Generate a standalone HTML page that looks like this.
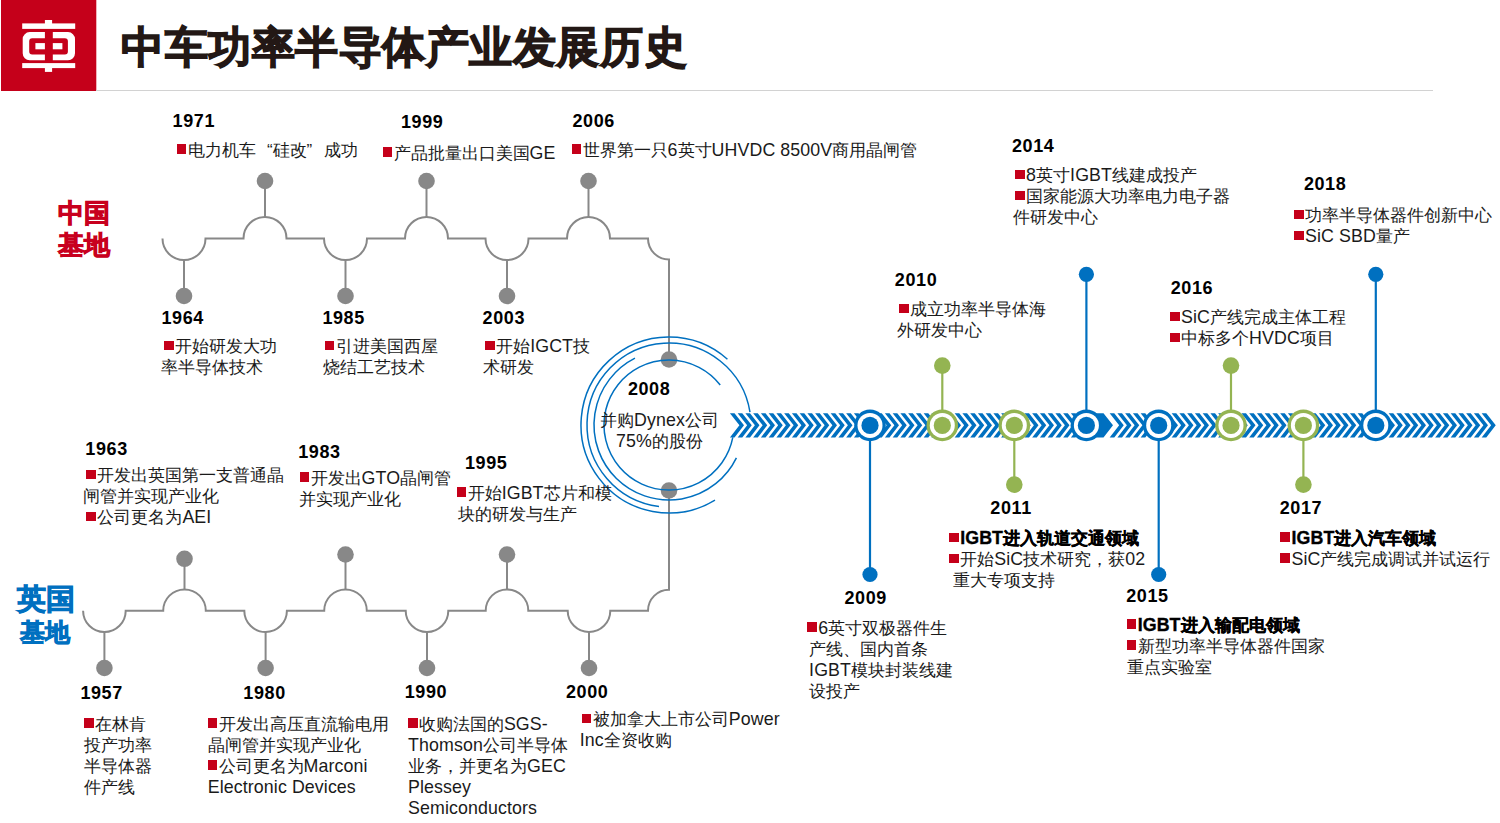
<!DOCTYPE html>
<html><head><meta charset="utf-8"><title>中车功率半导体产业发展历史</title>
<style>
*{margin:0;padding:0}
html,body{width:1500px;height:823px;overflow:hidden;background:#fff}
body{position:relative;font-family:"Liberation Sans",sans-serif;color:#1a1a1a}
.yr{position:absolute;font-weight:bold;font-size:18px;line-height:18px;white-space:nowrap;color:#000;letter-spacing:0.6px}
.tx{position:absolute;font-size:17px;line-height:21.1px;white-space:nowrap}
.l{font-size:17.8px;letter-spacing:0.1px;line-height:1;vertical-align:0.4px}
.q{display:inline-block;width:17px}
.ql{text-align:right}
.tx b{font-weight:bold;color:#000;-webkit-text-stroke:0.35px #000}
.b{display:inline-block;width:9.8px;height:9.6px;background:#c5001a;margin:0 1.3px 0 1px;vertical-align:1.8px}
.lab{position:absolute;font-weight:bold;white-space:nowrap;text-align:center;-webkit-text-stroke:0.9px currentColor}
.title{position:absolute;left:121px;top:22px;font-size:43px;line-height:50px;font-weight:bold;color:#231815;white-space:nowrap;letter-spacing:0.55px;-webkit-text-stroke:1.3px #231815}
</style></head>
<body>
<svg width="1500" height="823" viewBox="0 0 1500 823" style="position:absolute;left:0;top:0"><rect x="1" y="0" width="95.3" height="91" fill="#c5001a"/>
<rect x="96" y="90" width="1337" height="1" fill="#d2d2d2"/>
<g fill="#fff"><rect x="22.2" y="23.4" width="53" height="5.5"/><rect x="44.9" y="20" width="7.2" height="4"/><rect x="22.2" y="63.1" width="53" height="5"/><rect x="44.9" y="67.5" width="7.2" height="4.4"/><rect x="35.4" y="43.1" width="27" height="6.2"/></g>
<path fill="#fff" fill-rule="evenodd" d="M29.7,32.1 H68 A7,7 0 0 1 75,39.1 V53.2 A7,7 0 0 1 68,60.2 H29.7 A7,7 0 0 1 22.7,53.2 V39.1 A7,7 0 0 1 29.7,32.1 Z M32.2,38.2 H64.9 A3,3 0 0 1 67.9,41.2 V51.4 A3,3 0 0 1 64.9,54.4 H32.2 A3,3 0 0 1 29.2,51.4 V41.2 A3,3 0 0 1 32.2,38.2 Z"/>
<rect x="44.9" y="29.2" width="7.9" height="33.7" fill="#c5001a"/>
<path d="M162.5,238.5 A21.5,21.5 0 0 0 205.5,238.5 L243.5,238.5 A21.5,21.5 0 0 1 286.5,238.5 L324.0,238.5 A21.5,21.5 0 0 0 367.0,238.5 L405.0,238.5 A21.5,21.5 0 0 1 448.0,238.5 L485.5,238.5 A21.5,21.5 0 0 0 528.5,238.5 L567.0,238.5 A21.5,21.5 0 0 1 610.0,238.5 L648,238.5 A21,21 0 0 0 669,259.5 V359" fill="none" stroke="#888888" stroke-width="2"/>
<path d="M83.1,610.7 A21.3,21.3 0 0 0 125.7,610.7 L163.2,610.7 A21.3,21.3 0 0 1 205.8,610.7 L244.3,610.7 A21.3,21.3 0 0 0 286.9,610.7 L324.2,610.7 A21.3,21.3 0 0 1 366.8,610.7 L405.7,610.7 A21.3,21.3 0 0 0 448.3,610.7 L485.7,610.7 A21.3,21.3 0 0 1 528.3,610.7 L567.7,610.7 A21.3,21.3 0 0 0 610.3,610.7 L648,610.7 A21,21 0 0 1 669,589.7 V491" fill="none" stroke="#888888" stroke-width="2"/>
<line x1="265" y1="217" x2="265" y2="181" stroke="#888888" stroke-width="2"/>
<circle cx="265" cy="181" r="8.3" fill="#888888"/>
<line x1="426.5" y1="217" x2="426.5" y2="181" stroke="#888888" stroke-width="2"/>
<circle cx="426.5" cy="181" r="8.3" fill="#888888"/>
<line x1="588.5" y1="217" x2="588.5" y2="181" stroke="#888888" stroke-width="2"/>
<circle cx="588.5" cy="181" r="8.3" fill="#888888"/>
<line x1="184" y1="260" x2="184" y2="296" stroke="#888888" stroke-width="2"/>
<circle cx="184" cy="296" r="8.3" fill="#888888"/>
<line x1="345.5" y1="260" x2="345.5" y2="296" stroke="#888888" stroke-width="2"/>
<circle cx="345.5" cy="296" r="8.3" fill="#888888"/>
<line x1="507" y1="260" x2="507" y2="296" stroke="#888888" stroke-width="2"/>
<circle cx="507" cy="296" r="8.3" fill="#888888"/>
<line x1="184.5" y1="589.4" x2="184.5" y2="558.8" stroke="#888888" stroke-width="2"/>
<circle cx="184.5" cy="558.8" r="8.3" fill="#888888"/>
<line x1="345.5" y1="589.4" x2="345.5" y2="554.5" stroke="#888888" stroke-width="2"/>
<circle cx="345.5" cy="554.5" r="8.3" fill="#888888"/>
<line x1="507" y1="589.4" x2="507" y2="554.5" stroke="#888888" stroke-width="2"/>
<circle cx="507" cy="554.5" r="8.3" fill="#888888"/>
<line x1="104.4" y1="632" x2="104.4" y2="668" stroke="#888888" stroke-width="2"/>
<circle cx="104.4" cy="668" r="8.3" fill="#888888"/>
<line x1="265.6" y1="632" x2="265.6" y2="668" stroke="#888888" stroke-width="2"/>
<circle cx="265.6" cy="668" r="8.3" fill="#888888"/>
<line x1="427" y1="632" x2="427" y2="668" stroke="#888888" stroke-width="2"/>
<circle cx="427" cy="668" r="8.3" fill="#888888"/>
<line x1="589" y1="632" x2="589" y2="668" stroke="#888888" stroke-width="2"/>
<circle cx="589" cy="668" r="8.3" fill="#888888"/>
<circle cx="669" cy="359.5" r="8.3" fill="#888888"/>
<circle cx="669" cy="490.5" r="8.3" fill="#888888"/>
<path d="M720.22,384.98 A65,65 0 1 0 732.81,437.40" fill="none" stroke="#0070c0" stroke-width="1.5"/>
<path d="M634.95,358.17 A75,75 0 1 0 736.41,457.88" fill="none" stroke="#0070c0" stroke-width="1.5"/>
<path d="M749.99,412.17 A82,82 0 1 0 659.01,506.39" fill="none" stroke="#0070c0" stroke-width="1.5"/>
<path d="M727.43,359.19 A88,88 0 1 0 714.98,500.03" fill="none" stroke="#0070c0" stroke-width="1.5"/>
<path d="M729.90,413.2h4.6l9.5,12.1-9.5,12.1h-4.6l9.5,-12.1z M737.65,413.2h4.6l9.5,12.1-9.5,12.1h-4.6l9.5,-12.1z M745.40,413.2h4.6l9.5,12.1-9.5,12.1h-4.6l9.5,-12.1z M753.15,413.2h4.6l9.5,12.1-9.5,12.1h-4.6l9.5,-12.1z M760.90,413.2h4.6l9.5,12.1-9.5,12.1h-4.6l9.5,-12.1z M768.65,413.2h4.6l9.5,12.1-9.5,12.1h-4.6l9.5,-12.1z M776.40,413.2h4.6l9.5,12.1-9.5,12.1h-4.6l9.5,-12.1z M784.15,413.2h4.6l9.5,12.1-9.5,12.1h-4.6l9.5,-12.1z M791.90,413.2h4.6l9.5,12.1-9.5,12.1h-4.6l9.5,-12.1z M799.65,413.2h4.6l9.5,12.1-9.5,12.1h-4.6l9.5,-12.1z M807.40,413.2h4.6l9.5,12.1-9.5,12.1h-4.6l9.5,-12.1z M815.15,413.2h4.6l9.5,12.1-9.5,12.1h-4.6l9.5,-12.1z M822.90,413.2h4.6l9.5,12.1-9.5,12.1h-4.6l9.5,-12.1z M830.65,413.2h4.6l9.5,12.1-9.5,12.1h-4.6l9.5,-12.1z M838.40,413.2h4.6l9.5,12.1-9.5,12.1h-4.6l9.5,-12.1z M846.15,413.2h4.6l9.5,12.1-9.5,12.1h-4.6l9.5,-12.1z M853.90,413.2h4.6l9.5,12.1-9.5,12.1h-4.6l9.5,-12.1z M861.65,413.2h4.6l9.5,12.1-9.5,12.1h-4.6l9.5,-12.1z M869.40,413.2h4.6l9.5,12.1-9.5,12.1h-4.6l9.5,-12.1z M877.15,413.2h4.6l9.5,12.1-9.5,12.1h-4.6l9.5,-12.1z M884.90,413.2h4.6l9.5,12.1-9.5,12.1h-4.6l9.5,-12.1z M892.65,413.2h4.6l9.5,12.1-9.5,12.1h-4.6l9.5,-12.1z M900.40,413.2h4.6l9.5,12.1-9.5,12.1h-4.6l9.5,-12.1z M908.15,413.2h4.6l9.5,12.1-9.5,12.1h-4.6l9.5,-12.1z M915.90,413.2h4.6l9.5,12.1-9.5,12.1h-4.6l9.5,-12.1z M923.65,413.2h4.6l9.5,12.1-9.5,12.1h-4.6l9.5,-12.1z M931.40,413.2h4.6l9.5,12.1-9.5,12.1h-4.6l9.5,-12.1z M939.15,413.2h4.6l9.5,12.1-9.5,12.1h-4.6l9.5,-12.1z M946.90,413.2h4.6l9.5,12.1-9.5,12.1h-4.6l9.5,-12.1z M954.65,413.2h4.6l9.5,12.1-9.5,12.1h-4.6l9.5,-12.1z M962.40,413.2h4.6l9.5,12.1-9.5,12.1h-4.6l9.5,-12.1z M970.15,413.2h4.6l9.5,12.1-9.5,12.1h-4.6l9.5,-12.1z M977.90,413.2h4.6l9.5,12.1-9.5,12.1h-4.6l9.5,-12.1z M985.65,413.2h4.6l9.5,12.1-9.5,12.1h-4.6l9.5,-12.1z M993.40,413.2h4.6l9.5,12.1-9.5,12.1h-4.6l9.5,-12.1z M1001.15,413.2h4.6l9.5,12.1-9.5,12.1h-4.6l9.5,-12.1z M1008.90,413.2h4.6l9.5,12.1-9.5,12.1h-4.6l9.5,-12.1z M1016.65,413.2h4.6l9.5,12.1-9.5,12.1h-4.6l9.5,-12.1z M1024.40,413.2h4.6l9.5,12.1-9.5,12.1h-4.6l9.5,-12.1z M1032.15,413.2h4.6l9.5,12.1-9.5,12.1h-4.6l9.5,-12.1z M1039.90,413.2h4.6l9.5,12.1-9.5,12.1h-4.6l9.5,-12.1z M1047.65,413.2h4.6l9.5,12.1-9.5,12.1h-4.6l9.5,-12.1z M1055.40,413.2h4.6l9.5,12.1-9.5,12.1h-4.6l9.5,-12.1z M1063.15,413.2h4.6l9.5,12.1-9.5,12.1h-4.6l9.5,-12.1z M1070.90,413.2h4.6l9.5,12.1-9.5,12.1h-4.6l9.5,-12.1z M1078.65,413.2h4.6l9.5,12.1-9.5,12.1h-4.6l9.5,-12.1z M1086.40,413.2h4.6l9.5,12.1-9.5,12.1h-4.6l9.5,-12.1z M1094.15,413.2h4.6l9.5,12.1-9.5,12.1h-4.6l9.5,-12.1z M1109.65,413.2h4.6l9.5,12.1-9.5,12.1h-4.6l9.5,-12.1z M1117.40,413.2h4.6l9.5,12.1-9.5,12.1h-4.6l9.5,-12.1z M1125.15,413.2h4.6l9.5,12.1-9.5,12.1h-4.6l9.5,-12.1z M1132.90,413.2h4.6l9.5,12.1-9.5,12.1h-4.6l9.5,-12.1z M1140.65,413.2h4.6l9.5,12.1-9.5,12.1h-4.6l9.5,-12.1z M1148.40,413.2h4.6l9.5,12.1-9.5,12.1h-4.6l9.5,-12.1z M1156.15,413.2h4.6l9.5,12.1-9.5,12.1h-4.6l9.5,-12.1z M1163.90,413.2h4.6l9.5,12.1-9.5,12.1h-4.6l9.5,-12.1z M1171.65,413.2h4.6l9.5,12.1-9.5,12.1h-4.6l9.5,-12.1z M1179.40,413.2h4.6l9.5,12.1-9.5,12.1h-4.6l9.5,-12.1z M1187.15,413.2h4.6l9.5,12.1-9.5,12.1h-4.6l9.5,-12.1z M1194.90,413.2h4.6l9.5,12.1-9.5,12.1h-4.6l9.5,-12.1z M1202.65,413.2h4.6l9.5,12.1-9.5,12.1h-4.6l9.5,-12.1z M1210.40,413.2h4.6l9.5,12.1-9.5,12.1h-4.6l9.5,-12.1z M1218.15,413.2h4.6l9.5,12.1-9.5,12.1h-4.6l9.5,-12.1z M1225.90,413.2h4.6l9.5,12.1-9.5,12.1h-4.6l9.5,-12.1z M1233.65,413.2h4.6l9.5,12.1-9.5,12.1h-4.6l9.5,-12.1z M1241.40,413.2h4.6l9.5,12.1-9.5,12.1h-4.6l9.5,-12.1z M1249.15,413.2h4.6l9.5,12.1-9.5,12.1h-4.6l9.5,-12.1z M1256.90,413.2h4.6l9.5,12.1-9.5,12.1h-4.6l9.5,-12.1z M1264.65,413.2h4.6l9.5,12.1-9.5,12.1h-4.6l9.5,-12.1z M1272.40,413.2h4.6l9.5,12.1-9.5,12.1h-4.6l9.5,-12.1z M1280.15,413.2h4.6l9.5,12.1-9.5,12.1h-4.6l9.5,-12.1z M1287.90,413.2h4.6l9.5,12.1-9.5,12.1h-4.6l9.5,-12.1z M1295.65,413.2h4.6l9.5,12.1-9.5,12.1h-4.6l9.5,-12.1z M1303.40,413.2h4.6l9.5,12.1-9.5,12.1h-4.6l9.5,-12.1z M1311.15,413.2h4.6l9.5,12.1-9.5,12.1h-4.6l9.5,-12.1z M1318.90,413.2h4.6l9.5,12.1-9.5,12.1h-4.6l9.5,-12.1z M1326.65,413.2h4.6l9.5,12.1-9.5,12.1h-4.6l9.5,-12.1z M1334.40,413.2h4.6l9.5,12.1-9.5,12.1h-4.6l9.5,-12.1z M1342.15,413.2h4.6l9.5,12.1-9.5,12.1h-4.6l9.5,-12.1z M1349.90,413.2h4.6l9.5,12.1-9.5,12.1h-4.6l9.5,-12.1z M1357.65,413.2h4.6l9.5,12.1-9.5,12.1h-4.6l9.5,-12.1z M1365.40,413.2h4.6l9.5,12.1-9.5,12.1h-4.6l9.5,-12.1z M1373.15,413.2h4.6l9.5,12.1-9.5,12.1h-4.6l9.5,-12.1z M1380.90,413.2h4.6l9.5,12.1-9.5,12.1h-4.6l9.5,-12.1z M1388.65,413.2h4.6l9.5,12.1-9.5,12.1h-4.6l9.5,-12.1z M1396.40,413.2h4.6l9.5,12.1-9.5,12.1h-4.6l9.5,-12.1z M1404.15,413.2h4.6l9.5,12.1-9.5,12.1h-4.6l9.5,-12.1z M1411.90,413.2h4.6l9.5,12.1-9.5,12.1h-4.6l9.5,-12.1z M1419.65,413.2h4.6l9.5,12.1-9.5,12.1h-4.6l9.5,-12.1z M1427.40,413.2h4.6l9.5,12.1-9.5,12.1h-4.6l9.5,-12.1z M1435.15,413.2h4.6l9.5,12.1-9.5,12.1h-4.6l9.5,-12.1z M1442.90,413.2h4.6l9.5,12.1-9.5,12.1h-4.6l9.5,-12.1z M1450.65,413.2h4.6l9.5,12.1-9.5,12.1h-4.6l9.5,-12.1z M1458.40,413.2h4.6l9.5,12.1-9.5,12.1h-4.6l9.5,-12.1z M1466.15,413.2h4.6l9.5,12.1-9.5,12.1h-4.6l9.5,-12.1z M1473.90,413.2h4.6l9.5,12.1-9.5,12.1h-4.6l9.5,-12.1z M1481.65,413.2h4.6l9.5,12.1-9.5,12.1h-4.6l9.5,-12.1z M1094.2,413.2H1103.5L1113,425.3L1103.5,437.4H1094.2Z" fill="#0070c0"/>
<line x1="870" y1="425.4" x2="870" y2="574.5" stroke="#0070c0" stroke-width="2.2"/>
<circle cx="870" cy="574.5" r="7.6" fill="#0070c0"/>
<circle cx="870" cy="425.4" r="15.8" fill="#0070c0"/>
<circle cx="870" cy="425.4" r="12.5" fill="#fff"/>
<circle cx="870" cy="425.4" r="8.6" fill="#0070c0"/>
<line x1="942.3" y1="425.4" x2="942.3" y2="365.6" stroke="#94b452" stroke-width="2.2"/>
<circle cx="942.3" cy="365.6" r="8.3" fill="#94b452"/>
<circle cx="942.3" cy="425.4" r="15.8" fill="#94b452"/>
<circle cx="942.3" cy="425.4" r="12.5" fill="#fff"/>
<circle cx="942.3" cy="425.4" r="8.6" fill="#94b452"/>
<line x1="1014.3" y1="425.4" x2="1014.3" y2="484.6" stroke="#94b452" stroke-width="2.2"/>
<circle cx="1014.3" cy="484.6" r="8.3" fill="#94b452"/>
<circle cx="1014.3" cy="425.4" r="15.8" fill="#94b452"/>
<circle cx="1014.3" cy="425.4" r="12.5" fill="#fff"/>
<circle cx="1014.3" cy="425.4" r="8.6" fill="#94b452"/>
<line x1="1086.4" y1="425.4" x2="1086.4" y2="274.3" stroke="#0070c0" stroke-width="2.2"/>
<circle cx="1086.4" cy="274.3" r="7.6" fill="#0070c0"/>
<circle cx="1086.4" cy="425.4" r="15.8" fill="#0070c0"/>
<circle cx="1086.4" cy="425.4" r="12.5" fill="#fff"/>
<circle cx="1086.4" cy="425.4" r="8.6" fill="#0070c0"/>
<line x1="1158.7" y1="425.4" x2="1158.7" y2="574.5" stroke="#0070c0" stroke-width="2.2"/>
<circle cx="1158.7" cy="574.5" r="7.6" fill="#0070c0"/>
<circle cx="1158.7" cy="425.4" r="15.8" fill="#0070c0"/>
<circle cx="1158.7" cy="425.4" r="12.5" fill="#fff"/>
<circle cx="1158.7" cy="425.4" r="8.6" fill="#0070c0"/>
<line x1="1231" y1="425.4" x2="1231" y2="365.6" stroke="#94b452" stroke-width="2.2"/>
<circle cx="1231" cy="365.6" r="8.3" fill="#94b452"/>
<circle cx="1231" cy="425.4" r="15.8" fill="#94b452"/>
<circle cx="1231" cy="425.4" r="12.5" fill="#fff"/>
<circle cx="1231" cy="425.4" r="8.6" fill="#94b452"/>
<line x1="1303.4" y1="425.4" x2="1303.4" y2="484.6" stroke="#94b452" stroke-width="2.2"/>
<circle cx="1303.4" cy="484.6" r="8.3" fill="#94b452"/>
<circle cx="1303.4" cy="425.4" r="15.8" fill="#94b452"/>
<circle cx="1303.4" cy="425.4" r="12.5" fill="#fff"/>
<circle cx="1303.4" cy="425.4" r="8.6" fill="#94b452"/>
<line x1="1375.8" y1="425.4" x2="1375.8" y2="274.3" stroke="#0070c0" stroke-width="2.2"/>
<circle cx="1375.8" cy="274.3" r="7.6" fill="#0070c0"/>
<circle cx="1375.8" cy="425.4" r="15.8" fill="#0070c0"/>
<circle cx="1375.8" cy="425.4" r="12.5" fill="#fff"/>
<circle cx="1375.8" cy="425.4" r="8.6" fill="#0070c0"/></svg>
<div class="yr" style="left:172.6px;top:112.2px">1971</div><div class="tx" style="left:175.5px;top:139.6px"><i class="b"></i>电力机车<span class="q ql">“</span>硅改<span class="q">”</span>成功</div><div class="yr" style="left:401.0px;top:112.6px">1999</div><div class="tx" style="left:381.5px;top:142.8px"><i class="b"></i>产品批量出口美国<span class="l">GE</span></div><div class="yr" style="left:572.5px;top:112.2px">2006</div><div class="tx" style="left:570.5px;top:139.6px"><i class="b"></i>世界第一只<span class="l">6</span>英寸<span class="l">UHVDC 8500V</span>商用晶闸管</div><div class="yr" style="left:161.5px;top:308.6px">1964</div><div class="tx" style="left:163.0px;top:336.2px"><i class="b"></i>开始研发大功<br><span style="margin-left:-2.2px"></span>率半导体技术</div><div class="yr" style="left:322.4px;top:308.8px">1985</div><div class="tx" style="left:323.6px;top:336.2px"><i class="b"></i>引进美国西屋<br><span style="margin-left:-0.6px"></span>烧结工艺技术</div><div class="yr" style="left:482.6px;top:308.8px">2003</div><div class="tx" style="left:484.1px;top:336.2px"><i class="b"></i>开始<span class="l">IGCT</span>技<br><span style="margin-left:-1.4px"></span>术研发</div><div class="yr" style="left:85.3px;top:440.1px">1963</div><div class="tx" style="left:85.3px;top:465.1px"><i class="b"></i>开发出英国第一支普通晶<br><span style="margin-left:-2.5px"></span>闸管并实现产业化<br><i class="b"></i>公司更名为<span class="l">AEI</span></div><div class="yr" style="left:298.2px;top:442.5px">1983</div><div class="tx" style="left:298.5px;top:467.8px"><i class="b"></i>开发出<span class="l">GTO</span>晶闸管<br>并实现产业化</div><div class="yr" style="left:465.0px;top:453.5px">1995</div><div class="tx" style="left:455.6px;top:482.5px"><i class="b"></i>开始<span class="l">IGBT</span>芯片和模<br><span style="margin-left:2.3px"></span>块的研发与生产</div><div class="yr" style="left:80.4px;top:683.6px">1957</div><div class="tx" style="left:83.3px;top:713.7px"><i class="b"></i>在林肯<br><span style="margin-left:1px"></span>投产功率<br><span style="margin-left:1px"></span>半导体器<br><span style="margin-left:1px"></span>件产线</div><div class="yr" style="left:243.3px;top:683.6px">1980</div><div class="tx" style="left:206.5px;top:713.7px"><i class="b"></i>开发出高压直流输电用<br><span style="margin-left:1.3px"></span>晶闸管并实现产业化<br><i class="b"></i>公司更名为<span class="l">Marconi</span><br><span style="margin-left:1.3px"></span><span class="l">Electronic Devices</span></div><div class="yr" style="left:404.7px;top:683.4px">1990</div><div class="tx" style="left:406.8px;top:713.6px"><i class="b"></i>收购法国的<span class="l">SGS-</span><br><span style="margin-left:1.3px"></span><span class="l">Thomson</span>公司半导体<br><span style="margin-left:1.3px"></span>业务，并更名为<span class="l">GEC</span><br><span style="margin-left:1.3px"></span><span class="l">Plessey</span><br><span style="margin-left:1.3px"></span><span class="l">Semiconductors</span></div><div class="yr" style="left:566.0px;top:683.4px">2000</div><div class="tx" style="left:580.7px;top:709.1px"><i class="b"></i>被加拿大上市公司<span class="l">Power</span><br><span style="margin-left:-0.9px"></span><span class="l">Inc</span>全资收购</div><div class="yr" style="left:1012.0px;top:136.8px">2014</div><div class="tx" style="left:1014.0px;top:164.9px"><i class="b"></i><span class="l">8</span>英寸<span class="l">IGBT</span>线建成投产<br><i class="b"></i>国家能源大功率电力电子器<br><span style="margin-left:-0.8px"></span>件研发中心</div><div class="yr" style="left:1303.9px;top:175.2px">2018</div><div class="tx" style="left:1292.9px;top:205.1px"><i class="b"></i>功率半导体器件创新中心<br><i class="b"></i><span class="l">SiC SBD</span>量产</div><div class="yr" style="left:894.8px;top:270.8px">2010</div><div class="tx" style="left:898.4px;top:299.1px"><i class="b"></i>成立功率半导体海<br><span style="margin-left:-1.1px"></span>外研发中心</div><div class="yr" style="left:1170.7px;top:278.6px">2016</div><div class="tx" style="left:1169.0px;top:306.9px"><i class="b"></i><span class="l">SiC</span>产线完成主体工程<br><i class="b"></i>中标多个<span class="l">HVDC</span>项目</div><div class="yr" style="left:844.5px;top:589.4px">2009</div><div class="tx" style="left:806.1px;top:617.7px"><i class="b"></i><span class="l">6</span>英寸双极器件生<br><span style="margin-left:3px"></span>产线、国内首条<br><span style="margin-left:3px"></span><span class="l">IGBT</span>模块封装线建<br><span style="margin-left:3px"></span>设投产</div><div class="yr" style="left:990.3px;top:499.3px">2011</div><div class="tx" style="left:948.1px;top:527.9px"><i class="b"></i><b><span class="l">IGBT</span>进入轨道交通领域</b><br><i class="b"></i>开始<span class="l">SiC</span>技术研究，获<span class="l">02</span><br><span style="margin-left:4.5px"></span>重大专项支持</div><div class="yr" style="left:1126.2px;top:586.9px">2015</div><div class="tx" style="left:1125.6px;top:614.5px"><i class="b"></i><b><span class="l">IGBT</span>进入输配电领域</b><br><i class="b"></i>新型功率半导体器件国家<br><span style="margin-left:1.2px"></span>重点实验室</div><div class="yr" style="left:1279.7px;top:499.1px">2017</div><div class="tx" style="left:1279.4px;top:527.6px"><i class="b"></i><b><span class="l">IGBT</span>进入汽车领域</b><br><i class="b"></i><span class="l">SiC</span>产线完成调试并试运行</div>

<div class="yr" style="left:627.9px;top:379.9px">2008</div>
<div class="tx" style="left:559.5px;top:410px;width:200px;text-align:center">并购<span class="l">Dynex</span>公司<br><span class="l">75%</span>的股份</div>
<div class="lab" style="left:34.3px;top:200.3px;width:100px;color:#c8001e;font-size:26.3px;line-height:27px">中国</div>
<div class="lab" style="left:34.2px;top:231.9px;width:100px;color:#c8001e;font-size:26.3px;line-height:27px">基地</div>
<div class="lab" style="left:-4.1px;top:584px;width:100px;color:#0070c0;font-size:29.3px;line-height:30px">英国</div>
<div class="lab" style="left:-4.8px;top:618.9px;width:100px;color:#0070c0;font-size:25.2px;line-height:26px">基地</div>
<div class="title">中车功率半导体产业发展历史</div>

</body></html>
